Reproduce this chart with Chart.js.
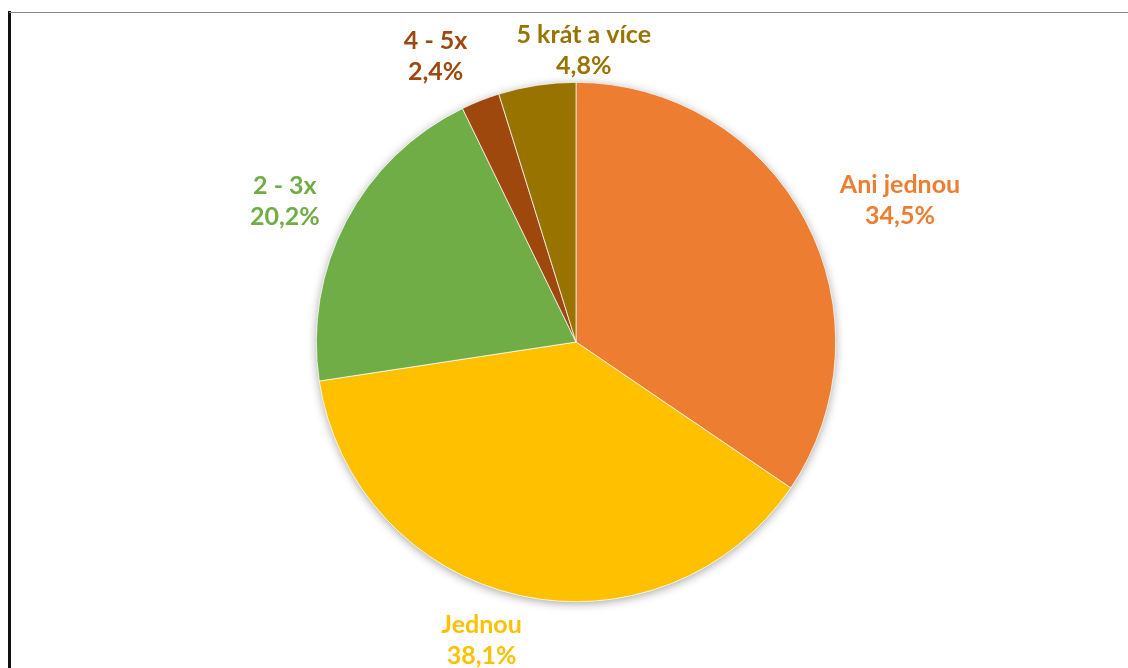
<!DOCTYPE html>
<html>
<head>
<meta charset="utf-8">
<script src="https://cdn.jsdelivr.net/npm/chart.js@4"></script>
<style>
  html, body { margin: 0; padding: 0; background: #fff; }
  #wrap { position: relative; width: 1128px; height: 668px; overflow: hidden; }
  #leftLine { position: absolute; left: 8px; top: 11px; width: 3px; height: 657px; background: #111; }
  #topLine { position: absolute; left: 9px; top: 12px; right: 0; height: 1px; background: #888; }
  canvas { position: absolute; left: 0; top: 0; }
</style>
</head>
<body>
<div id="wrap">
  <canvas id="chart" width="1128" height="668"></canvas>
  <div id="leftLine"></div>
  <div id="topLine"></div>
</div>
<script>
//data
const categories = ["Ani jednou", "Jednou", "2 - 3x", "4 - 5x", "5 krát a více"];
const shares = [34.5, 38.1, 20.2, 2.4, 4.8];
const sliceColors = ["#ED7D31", "#FFC000", "#70AD47", "#9E480E", "#997300"];

const labelFont = "bold 25px Lato, sans-serif";
//small sideways nudges, Excel spreads the crowded labels
const labelNudge = [[29, -1], [-25, 4], [-18, -1], [-28, -6], [59, 6]];

//soft shadow under the whole pie
const pieShadow = {
  id: "pieShadow",
  beforeDatasetsDraw(chart) {
    const arc = chart.getDatasetMeta(0).data[0];
    const c = chart.ctx;
    c.save();
    c.shadowColor = "rgba(0,0,0,0.35)";
    c.shadowBlur = 10;
    c.shadowOffsetY = 2;
    c.fillStyle = "#fff";
    c.beginPath();
    c.arc(arc.x, arc.y, arc.outerRadius, 0, Math.PI * 2);
    c.fill();
    c.restore();
  }
};

//labels outside end, name on first line, percentage below
const outsideLabels = {
  id: "outsideLabels",
  afterDatasetsDraw(chart) {
    const c = chart.ctx;
    const meta = chart.getDatasetMeta(0);
    c.save();
    c.font = labelFont;
    c.textAlign = "center";
    c.textBaseline = "middle";
    meta.data.forEach((arc, i) => {
      const mid = (arc.startAngle + arc.endAngle) / 2;
      const cos = Math.cos(mid), sin = Math.sin(mid);
      const line1 = categories[i];
      const line2 = shares[i].toFixed(1).replace(".", ",") + "%";
      const w = Math.max(c.measureText(line1).width, c.measureText(line2).width);
      const h = 56;
      const r = arc.outerRadius + 14;
      const x = arc.x + cos * r + cos * w / 2 + labelNudge[i][0];
      const y = arc.y + sin * r + sin * h / 2 + labelNudge[i][1];
      c.fillStyle = sliceColors[i];
      c.fillText(line1, x, y - 15);
      c.fillText(line2, x, y + 16);
    });
    c.restore();
  }
};

const ctx = document.getElementById("chart").getContext("2d");
new Chart(ctx, {
  type: "pie",
  data: {
    labels: categories,
    datasets: [{
      data: shares,
      backgroundColor: sliceColors,
      borderColor: "#fff",
      borderWidth: 0.7,
      hoverOffset: 0
    }]
  },
  options: {
    responsive: false,
    animation: false,
    layout: { padding: { left: 316, right: 292, top: 82, bottom: 66 } },
    plugins: {
      legend: { display: false },
      tooltip: { enabled: false }
    }
  },
  plugins: [pieShadow, outsideLabels]
});
</script>
</body>
</html>
